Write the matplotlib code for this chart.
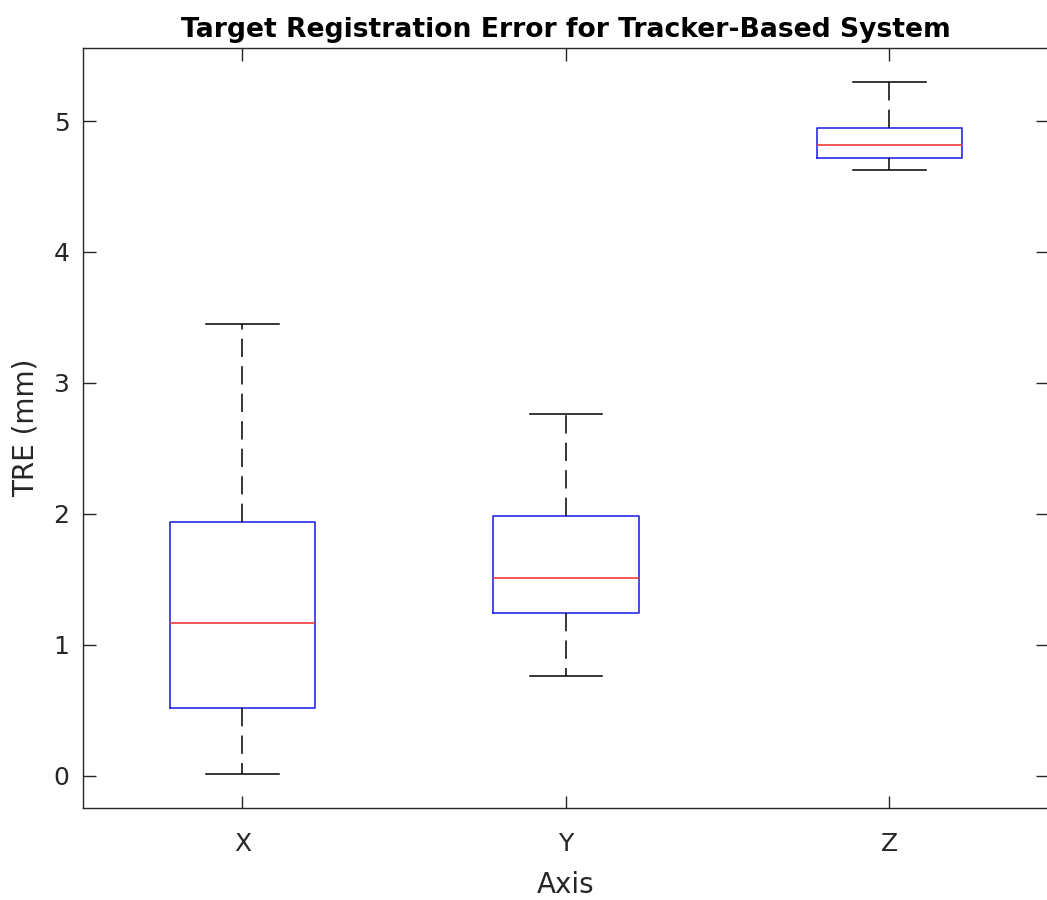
import matplotlib
matplotlib.use("Agg")
import matplotlib.pyplot as plt

categories = ["X", "Y", "Z"]
whislo = [0.01, 0.76, 4.625]
q1 = [0.513, 1.239, 4.715]
med = [1.167, 1.507, 4.817]
q3 = [1.939, 1.982, 4.95]
whishi = [3.449, 2.762, 5.30]

W, H = 1047, 900
fig = plt.figure(figsize=(W / 100, H / 100), dpi=100)
left, right, bottom, top = 83.3, 1048, 808.3, 47.7
ax = fig.add_axes([left / W, 1 - bottom / H, (right - left) / W, (bottom - top) / H])

stats = []
for i, c in enumerate(categories):
    stats.append(dict(label=c, whislo=whislo[i], q1=q1[i], med=med[i],
                      q3=q3[i], whishi=whishi[i], fliers=[]))

ax.bxp(stats, positions=[1, 2, 3], widths=0.45, showfliers=False,
       boxprops=dict(color="#2a2ae8", linewidth=1.2),
       medianprops=dict(color="#f03a3a", linewidth=1.2),
       whiskerprops=dict(color="black", linewidth=1.1, linestyle=(0, (12, 6))),
       capprops=dict(color="black", linewidth=1.1),
       capwidths=0.225)

ax.set_xlim(0.508, 3.49)
ax.set_ylim(-0.25, 5.56)
ax.set_yticks([0, 1, 2, 3, 4, 5])
ax.set_xticks([1, 2, 3])
ax.set_xticklabels(categories)

fam = ["DejaVu Sans"]
dark = "#262626"
ax.tick_params(direction="in", length=9, width=1.0, colors=dark, labelsize=18,
               top=True, right=True)
ax.tick_params(axis="y", pad=10)
ax.tick_params(axis="x", pad=17)
for lab in ax.get_xticklabels() + ax.get_yticklabels():
    lab.set_family(fam)
for s in ax.spines.values():
    s.set_color(dark)
    s.set_linewidth(1.0)

ax.set_title("Target Registration Error for Tracker-Based System",
             fontsize=19.2, fontweight="bold", family=fam, color="black", pad=8)
ax.set_xlabel("Axis", fontsize=20, family=fam, color=dark, labelpad=11)
ax.set_ylabel("TRE (mm)", fontsize=20, family=fam, color=dark, labelpad=10)

fig.savefig("out.png", dpi=100)
